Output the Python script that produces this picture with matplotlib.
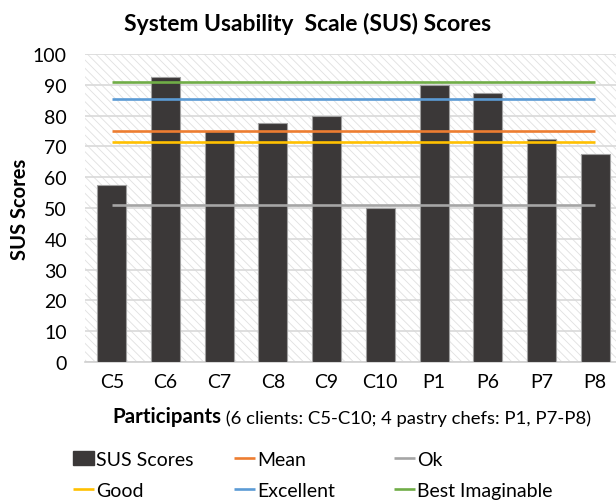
import matplotlib
matplotlib.use('Agg')
import matplotlib.pyplot as plt
from matplotlib.patches import Rectangle, Patch
from matplotlib.lines import Line2D

participants = ['C5', 'C6', 'C7', 'C8', 'C9', 'C10', 'P1', 'P6', 'P7', 'P8']
sus_scores = [57.5, 92.5, 75, 77.5, 80, 50, 90, 87.5, 72.5, 67.5]
ref_names = ['Mean', 'Ok', 'Good', 'Excellent', 'Best Imaginable']
ref_values = [75.0, 50.9, 71.4, 85.5, 90.9]
ref_colors = ['#ED7D31', '#A5A5A5', '#FFC000', '#5B9BD5', '#70AD47']
y_ticks = [0, 10, 20, 30, 40, 50, 60, 70, 80, 90, 100]

plt.rcParams['font.family'] = ['Lato', 'DejaVu Sans']
plt.rcParams['hatch.linewidth'] = 0.6

W, H = 616, 502
fig = plt.figure(figsize=(W / 100, H / 100), dpi=100)
ax = fig.add_axes([85 / W, 139 / H, 537 / W, 308 / H])

# hatched background
bg = Rectangle((0, 0), 1, 1, transform=ax.transAxes, facecolor='white',
               edgecolor='#e0e0e0', linewidth=0, hatch='\\\\\\\\', zorder=0)
ax.add_patch(bg)

x = list(range(len(participants)))
ax.bar(x, sus_scores, width=0.54, color='#3b3838', edgecolor='#a0a0a0',
       linewidth=0.8, zorder=3, label='SUS Scores')

handles = {}
for name, val, col in zip(ref_names, ref_values, ref_colors):
    ln, = ax.plot([x[0], x[-1]], [val, val], color=col, lw=1.9, zorder=4,
                  solid_capstyle='butt')
    handles[name] = ln

ax.set_xlim(-0.5, len(participants) - 0.5)
ax.set_ylim(0, 100)
ax.set_yticks(y_ticks)
ax.set_xticks(x)
ax.set_xticklabels(participants)
ax.yaxis.grid(True, color='#d9d9d9', lw=1.2, zorder=1)
ax.set_axisbelow(True)
for s in ['top', 'right', 'left']:
    ax.spines[s].set_visible(False)
ax.spines['bottom'].set_color('#d0d0d0')
ax.spines['bottom'].set_linewidth(1.2)
ax.tick_params(axis='both', length=0, labelsize=14, colors='black')
ax.tick_params(axis='y', pad=13)
ax.tick_params(axis='x', pad=8)

ax.set_ylabel('SUS Scores', fontsize=14.5, fontweight='bold')
ax.yaxis.set_label_coords(-(85 - 30) / 537, 0.5)

# x-axis label: bold part + regular part
xl_bold = fig.text(112 / W, 1 - 423 / H, 'Participants', fontsize=14.8,
                   fontweight='bold', ha='left', va='baseline')
ax.annotate(' (6 clients: C5-C10; 4 pastry chefs: P1, P7-P8)',
            xy=(1, 0), xycoords=xl_bold, ha='left', va='bottom',
            fontsize=13.3, annotation_clip=False)

fig.text(0.5, 1 - 24 / H, 'System Usability  Scale (SUS) Scores',
         ha='center', va='center', fontsize=16.5, fontweight='bold')

bar_handle = Patch(facecolor='#3b3838', edgecolor='#3b3838')
cols = [
    ([bar_handle, handles['Good']], ['SUS Scores', 'Good'], 73),
    ([handles['Mean'], handles['Excellent']], ['Mean', 'Excellent'], 234),
    ([handles['Ok'], handles['Best Imaginable']], ['Ok', 'Best Imaginable'], 394),
]
for hs, ls, xp in cols:
    fig.legend(hs, ls, loc='upper left', bbox_to_anchor=(xp / W, 1 - 452 / H),
               frameon=False, fontsize=14, handlelength=1.1, handleheight=0.7,
               handletextpad=0.1, borderpad=0, borderaxespad=0,
               labelspacing=0.7)

fig.savefig('out.png', dpi=100)
